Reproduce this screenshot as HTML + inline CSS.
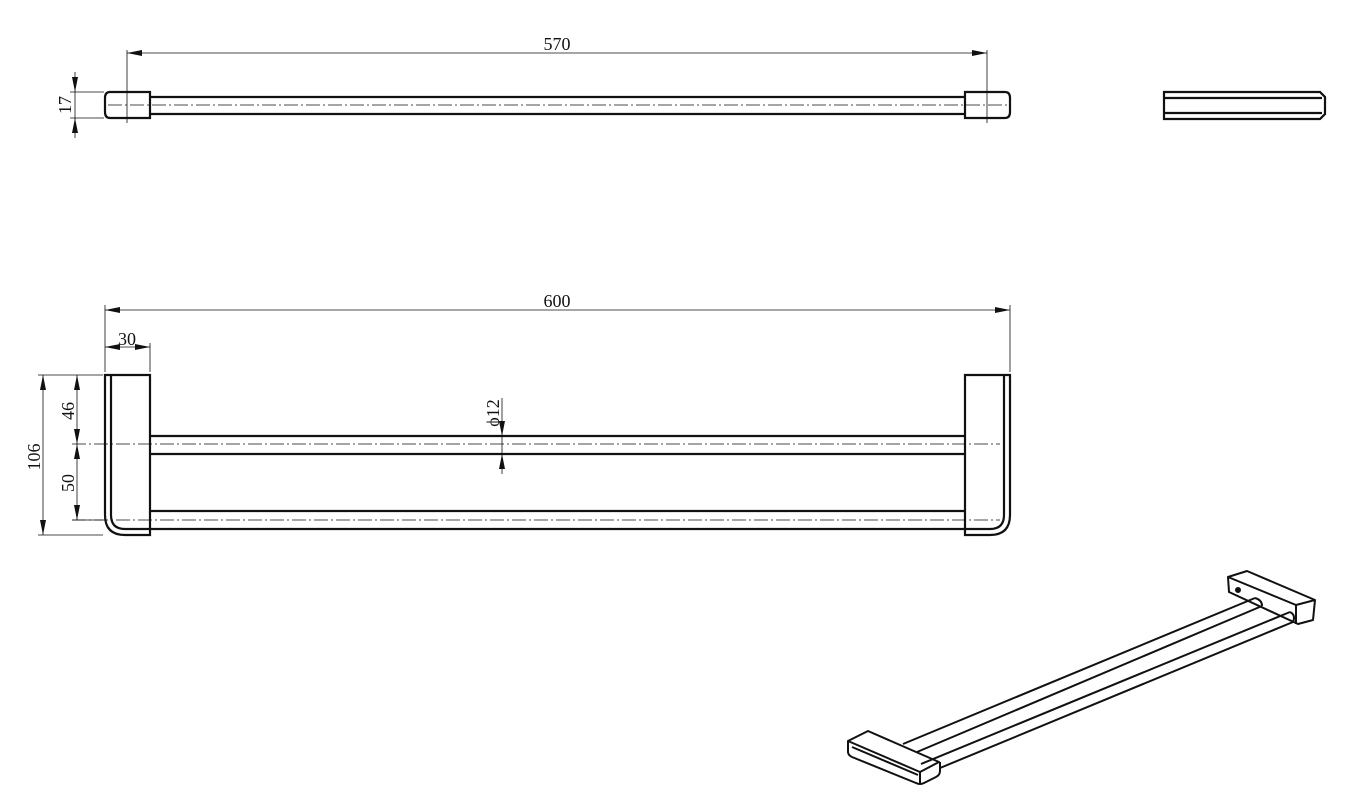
<!DOCTYPE html>
<html><head><style>body{margin:0;background:#fff}svg{display:block}text{font-family:"Liberation Serif",serif;font-size:18px;fill:#111}</style></head>
<body>
<svg width="1368" height="796" viewBox="0 0 1368 796" xmlns="http://www.w3.org/2000/svg">
<defs>
<marker id="a" viewBox="0 0 10 4" refX="10" refY="2" markerWidth="16" markerHeight="6" orient="auto-start-reverse" markerUnits="userSpaceOnUse"><path d="M0,0L10,2L0,4Z" fill="#111"/></marker>
</defs>
<g stroke="#111" fill="none">
<!-- TOP VIEW -->
<g stroke-width="2.2">
<path d="M150,92H110Q105,92 105,98V112Q105,118 110,118H150Z"/>
<path d="M150,97H965M150,114H965"/>
<path d="M965,92H1005Q1010,92 1010,98V112Q1010,118 1005,118H965Z"/>
</g>
<path d="M108,105H1008" stroke-width="0.8" stroke-dasharray="14,3,2,3"/>
<g stroke-width="0.8">
<path d="M127,50V123M987,50V123"/>
<path d="M127,53H987" marker-start="url(#a)" marker-end="url(#a)"/>
<path d="M70,92H104M70,118H104"/>
<path d="M75,72V92" marker-end="url(#a)"/>
<path d="M75,138V118" marker-end="url(#a)"/>
<path d="M75,92V118"/>
</g>
<!-- SIDE VIEW -->
<g stroke-width="2.2">
<path d="M1164,92H1320L1325,97V114L1320,119H1164Z"/>
<path d="M1164,98H1322M1164,113H1322"/>
</g>
<!-- FRONT VIEW -->
<g stroke-width="2.2">
<path d="M150,375H105V515Q105,535 125,535H150Z"/>
<path d="M111,376V515Q111,529 125,529H150"/>
<path d="M150,436H965M150,454H965M150,511H965M150,529H965"/>
<path d="M965,375H1010V515Q1010,535 990,535H965Z"/>
<path d="M1004,376V515Q1004,529 990,529H965"/>
</g>
<path d="M72,444H1000M72,520H1000" stroke-width="0.8" stroke-dasharray="14,3,2,3"/>
<g stroke-width="0.8">
<path d="M105,305V372M1010,305V372M150,343V372"/>
<path d="M105,310H1010" marker-start="url(#a)" marker-end="url(#a)"/>
<path d="M105,347H150" marker-start="url(#a)" marker-end="url(#a)"/>
<path d="M38,375H103M38,535H103M72,520H103"/>
<path d="M43,375V535" marker-start="url(#a)" marker-end="url(#a)"/>
<path d="M77,375V444" marker-start="url(#a)" marker-end="url(#a)"/>
<path d="M77,444V520" marker-start="url(#a)" marker-end="url(#a)"/>
<path d="M502,398V436" marker-end="url(#a)"/>
<path d="M502,474V454" marker-end="url(#a)"/>
<path d="M502,436V454"/>
</g>
<!-- ISO VIEW -->
<g stroke-width="2" stroke-linejoin="round">
<path d="M848,741L868,731L939,762L920,772Z"/>
<path d="M848,741V752Q848,755 852,757L916,783Q920,785 924,783L936,777Q940,775 940,771V762"/>
<path d="M920,772V783M852,747L918,775"/>
<path d="M903,744L1255,598M917,752L1262,606"/>
<path d="M1255,598Q1262,600 1262,606"/>
<path d="M921,764L1290,612M940,768L1293,622"/>
<path d="M1290,612Q1296,615 1293,622"/>
<path d="M1228,577L1247,571L1315,600L1313,620L1298,624L1229,592Z"/>
<path d="M1228,577L1296,605L1315,600M1296,605V624"/>
</g>
<circle cx="1238" cy="590" r="2.5" fill="#111"/>
</g>
<text x="557" y="50" text-anchor="middle">570</text>
<text x="557" y="307" text-anchor="middle">600</text>
<text x="127" y="345" text-anchor="middle">30</text>
<text transform="translate(71,105) rotate(-90)" text-anchor="middle">17</text>
<text transform="translate(40,457) rotate(-90)" text-anchor="middle">106</text>
<text transform="translate(74,411) rotate(-90)" text-anchor="middle">46</text>
<text transform="translate(74,483) rotate(-90)" text-anchor="middle">50</text>
<text transform="translate(499,413) rotate(-90)" text-anchor="middle">ϕ12</text>
</svg>
</body></html>
